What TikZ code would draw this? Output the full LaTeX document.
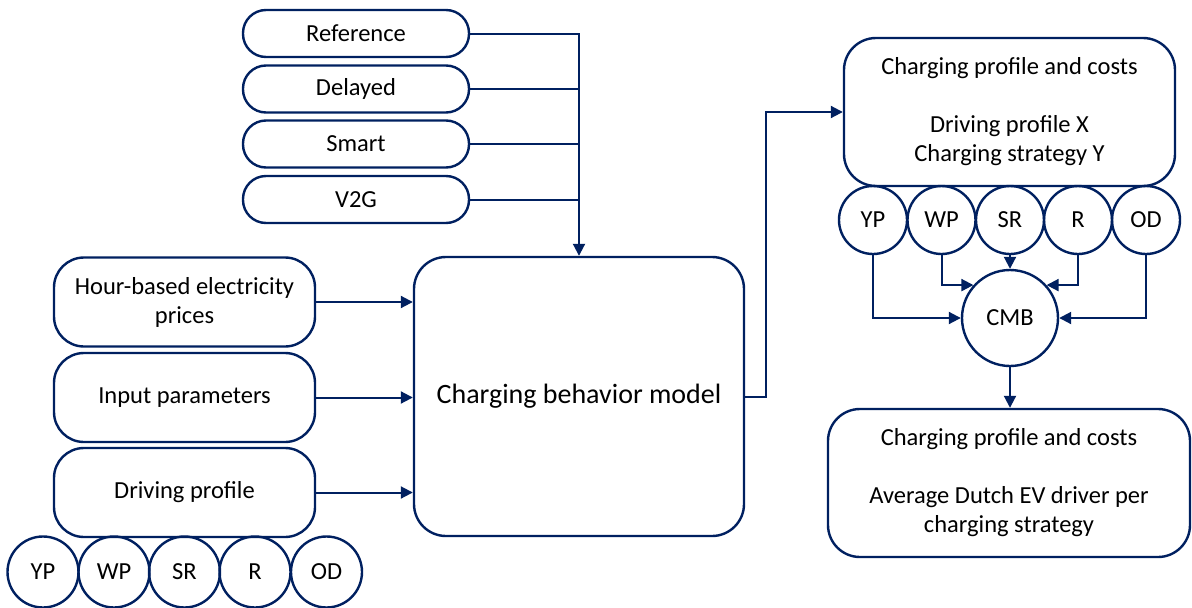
\documentclass[tikz,border=0pt]{standalone}
\usepackage{fontspec}
\setmainfont{Carlito}
\usetikzlibrary{arrows.meta}
\definecolor{navy}{RGB}{0,32,96}
\begin{document}
\begin{tikzpicture}[x=1pt,y=-1pt,
  every node/.style={font=\fontsize{24.5}{29}\selectfont, text=black, align=center, inner sep=0pt},
  pill/.style={draw=navy, line width=2.4pt, rounded corners=23pt, minimum width=226pt, minimum height=47pt},
  inbox/.style={draw=navy, line width=2.4pt, rounded corners=30pt, minimum width=261pt, minimum height=89pt},
  outbox/.style={draw=navy, line width=2.4pt, rounded corners=32pt, minimum height=148pt},
  bigbox/.style={draw=navy, line width=2.4pt, rounded corners=32pt, minimum width=330pt, minimum height=279pt, font=\fontsize{28}{32}\selectfont},
  catcirc/.style={draw=navy, line width=2.4pt, circle, minimum size=#1},
  link/.style={draw=navy, line width=2pt},
  arr/.style={link, -{Triangle[length=12pt,width=12pt]}}
]
\useasboundingbox (0,0) rectangle (1192,608);

% charging strategies
\node[pill] (ref) at (356,33.5) {Reference};
\node[pill] (del) at (356,89) {Delayed};
\node[pill] (sma) at (356,144) {Smart};
\node[pill] (v2g) at (356,199.5) {V2G};

% central model
\node[bigbox] (cbm) at (579,396.5) {Charging behavior model};

% model inputs
\node[inbox] (price) at (184.5,302) {Hour-based electricity\\prices};
\node[inbox] (param) at (184.5,397.5) {Input parameters};
\node[inbox] (drive) at (184.5,492.5) {Driving profile};

% driving profile categories
\node[catcirc=71pt] (lyp) at (43,572) {YP};
\node[catcirc=71pt] (lwp) at (114,572) {WP};
\node[catcirc=71pt] (lsr) at (184.5,572) {SR};
\node[catcirc=71pt] (lr)  at (255,572) {R};
\node[catcirc=71pt] (lod) at (326.5,572) {OD};

% outputs
\node[outbox, minimum width=331pt] (prof) at (1009.5,112) {Charging profile and costs\\[29pt]Driving profile X\\Charging strategy Y};
\node[catcirc=68pt] (ryp) at (873,220) {YP};
\node[catcirc=68pt] (rwp) at (941.5,220) {WP};
\node[catcirc=68pt] (rsr) at (1010,220) {SR};
\node[catcirc=68pt] (rr)  at (1078,220) {R};
\node[catcirc=68pt] (rod) at (1146,220) {OD};
\node[catcirc=96pt] (cmb) at (1010,318) {CMB};
\node[outbox, minimum width=362pt] (avg) at (1009,483) {Charging profile and costs\\[29pt]Average Dutch EV driver per\\charging strategy};

% strategy bus into the model
\draw[arr] (ref.east) -| (cbm.north);
\draw[link] (del.east) -- (del.east -| cbm.north);
\draw[link] (sma.east) -- (sma.east -| cbm.north);
\draw[link] (v2g.east) -- (v2g.east -| cbm.north);

% inputs into the model
\draw[arr] (price.east) -- (price.east -| cbm.west);
\draw[arr] (param.east) -- (param.east -| cbm.west);
\draw[arr] (drive.east) -- (drive.east -| cbm.west);

% model output
\draw[arr] (cbm.east) -- ++(21,0) |- (prof.west);

% combining the driving profiles
\draw[arr] (ryp.south) |- (cmb.west);
\draw[arr] (rod.south) |- (cmb.east);
\draw[arr] (rwp.south) |- (cmb.138);
\draw[arr] (rr.south) |- (cmb.42);
\draw[arr] (rsr.south) -- (cmb.north);
\draw[arr] (cmb.south) -- (cmb.south |- avg.north);
\end{tikzpicture}
\end{document}
